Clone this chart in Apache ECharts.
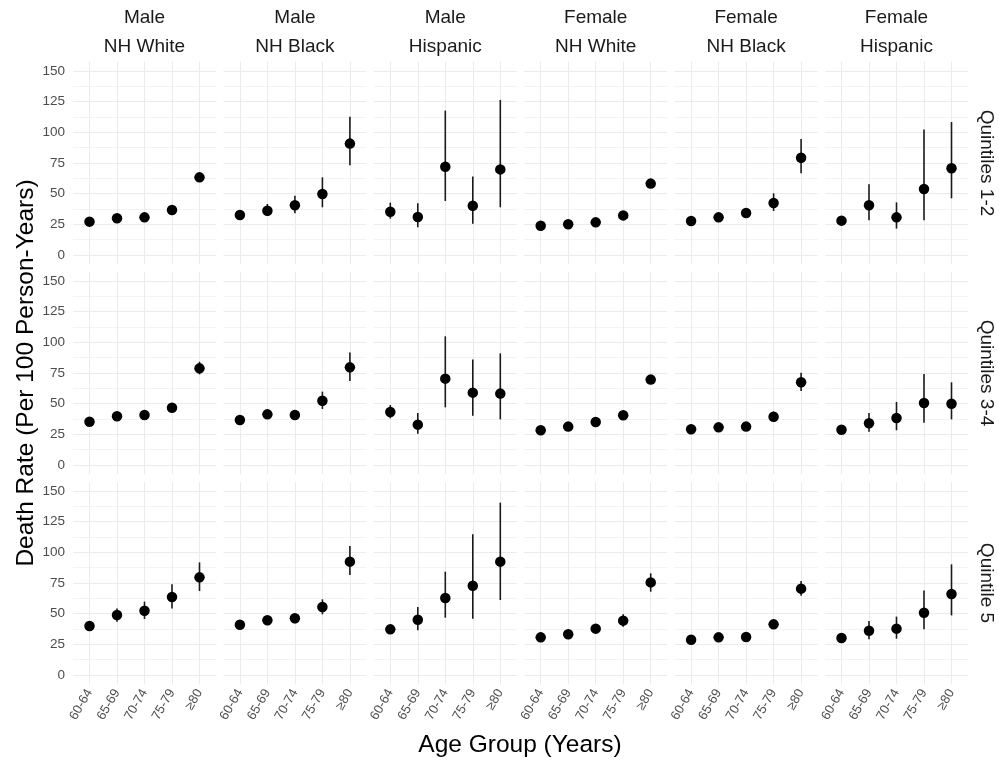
<!DOCTYPE html>
<html lang="en">

<head>
  <meta charset="UTF-8">
  <title>Death Rate by Age Group</title>
  <script src="https://cdn.jsdelivr.net/npm/echarts@6/dist/echarts.min.js"></script>
</head>

<body style="margin:0; background:#fff;">
  <div id="chart" style="width: 999px; height: 766px;"></div>

  <script>
    // categories
    var ageGroups = ['60-64', '65-69', '70-74', '75-79', '≥80'];
    var colHeads = [['Male', 'NH White'], ['Male', 'NH Black'], ['Male', 'Hispanic'],
                    ['Female', 'NH White'], ['Female', 'NH Black'], ['Female', 'Hispanic']];
    var rowHeads = ['Quintiles 1-2', 'Quintiles 3-4', 'Quintile 5'];
    var yTicks = [0, 25, 50, 75, 100, 125, 150];
    var yMinor = [12.5, 37.5, 62.5, 87.5, 112.5, 137.5];

    // Quintiles 1-2 : one row per column panel
    var estQ12 = [[27.2, 29.9, 30.7, 36.7, 63.3], [32.6, 36.1, 40.5, 49.7, 90.8], [35.3, 31.0, 72.0, 40.2, 69.8],
                  [23.9, 25.0, 26.6, 32.3, 58.2], [27.7, 30.7, 34.2, 42.4, 79.3], [28.0, 40.5, 30.7, 53.8, 70.7]];
    var loQ12 = [[25.8, 28.5, 29.0, 34.8, 61.0], [30.8, 31.8, 34.0, 38.9, 73.1], [29.6, 22.6, 44.0, 25.5, 38.9],
                 [22.9, 24.0, 25.5, 30.8, 56.5], [25.8, 28.6, 31.0, 35.9, 66.6], [25.5, 28.3, 21.5, 28.3, 46.2]];
    var hiQ12 = [[28.7, 31.4, 32.5, 38.7, 65.7], [34.5, 41.6, 48.4, 63.3, 112.8], [42.7, 42.1, 117.7, 63.9, 126.4],
                 [24.9, 26.0, 27.8, 33.9, 60.0], [29.7, 32.9, 37.5, 50.3, 94.6], [30.6, 57.6, 42.9, 102.4, 108.4]];

    // Quintiles 3-4
    var estQ34 = [[35.3, 39.7, 40.8, 46.7, 78.8], [36.7, 41.3, 40.8, 52.4, 79.6], [43.2, 32.9, 70.4, 59.0, 58.2],
                  [28.3, 31.3, 35.1, 40.5, 69.6], [29.1, 30.7, 31.3, 39.4, 67.4], [28.8, 34.0, 38.3, 50.5, 50.0]];
    var loQ34 = [[33.8, 38.0, 39.0, 44.5, 73.9], [35.0, 39.0, 37.0, 45.7, 68.5], [38.0, 25.5, 47.0, 40.2, 37.2],
                 [27.3, 30.2, 33.8, 38.8, 67.3], [27.9, 29.4, 29.8, 35.3, 60.3], [27.0, 27.2, 28.3, 34.5, 37.2]];
    var hiQ34 = [[36.8, 41.5, 42.8, 49.0, 84.2], [38.5, 43.8, 44.3, 59.8, 91.8], [48.9, 42.4, 104.9, 86.1, 91.0],
                 [29.4, 32.5, 36.5, 42.4, 72.2], [30.4, 32.1, 33.0, 43.5, 75.3], [30.7, 42.4, 51.4, 74.2, 67.4]];

    // Quintile 5
    var estQ5 = [[39.9, 48.9, 52.4, 63.6, 79.6], [41.0, 44.6, 46.2, 55.4, 92.4], [37.2, 45.1, 62.8, 72.8, 92.4],
                 [30.7, 33.2, 37.8, 44.3, 75.5], [28.8, 30.7, 31.0, 41.3, 70.4], [30.2, 36.1, 37.8, 50.8, 66.0]];
    var loQ5 = [[37.8, 43.5, 45.7, 54.3, 68.5], [39.0, 42.5, 42.1, 49.5, 81.5], [34.5, 36.4, 46.7, 45.9, 61.1],
                [29.3, 31.5, 35.5, 39.4, 67.9], [27.3, 29.0, 29.1, 38.8, 64.7], [28.5, 29.1, 29.6, 37.2, 48.6]];
    var hiQ5 = [[42.0, 54.3, 59.8, 73.9, 91.8], [43.2, 46.8, 50.0, 61.7, 105.2], [40.0, 55.4, 84.2, 114.7, 140.5],
                [32.2, 35.0, 40.2, 49.5, 82.9], [30.4, 32.4, 33.0, 43.8, 76.6], [32.0, 44.0, 47.6, 68.8, 90.2]];

    var est = [estQ12, estQ34, estQ5];
    var lo = [loQ12, loQ34, loQ5];
    var hi = [hiQ12, hiQ34, hiQ5];

    var myChart = echarts.init(document.getElementById('chart'));

    var FONT = 'Liberation Sans, Arial, sans-serif';
    var xIdx = [0, 1, 2, 3, 4];
    var yAll = yTicks.concat(yMinor).sort(function (a, b) { return a - b; });

    var grids = [], xAxes = [], yAxes = [], series = [], graphics = [];

    function label(x, y, text, size, fill, rot) {
      return {
        type: 'text', x: x, y: y, rotation: rot || 0,
        style: { text: text, font: size + 'px ' + FONT, fill: fill, textAlign: 'center', textVerticalAlign: 'middle', align: 'center', verticalAlign: 'middle' }
      };
    }

    for (var r = 0; r < 3; r++) {
      for (var c = 0; c < 6; c++) {
        var g = r * 6 + c;
        var left = 73 + c * 150.4;
        grids.push({ left: left, top: 61.8 + r * 210, width: 143, height: 202.4 });

        xAxes.push({
          type: 'value', gridIndex: g, min: -0.6, max: 4.6,
          axisLine: { show: false },
          axisTick: { show: false, customValues: xIdx },
          splitLine: { show: true, lineStyle: { color: '#ebebeb', width: 1 } },
          axisLabel: {
            show: r === 2, customValues: xIdx, rotate: 60, margin: 6,
            color: '#4d4d4d', fontSize: 13, fontFamily: FONT,
            formatter: function (v) { return ageGroups[Math.round(v)]; }
          }
        });

        yAxes.push({
          type: 'value', gridIndex: g, min: -7.5, max: 157.5,
          axisLine: { show: false },
          axisTick: { show: false, customValues: yAll },
          splitLine: { show: true, lineStyle: { color: ['#ebebeb', '#f3f3f3'], width: 1 } },
          axisLabel: {
            show: c === 0, customValues: yTicks, margin: 8,
            color: '#4d4d4d', fontSize: 13.5, fontFamily: FONT
          }
        });

        var pts = [], bars = [];
        for (var i = 0; i < ageGroups.length; i++) {
          pts.push([i, est[r][c][i]]);
          bars.push([i, lo[r][c][i], hi[r][c][i]]);
        }

        // error bars
        series.push({
          type: 'custom', xAxisIndex: g, yAxisIndex: g,
          encode: { x: 0, y: [1, 2] },
          data: bars,
          silent: true,
          renderItem: function (params, api) {
            var x = api.value(0);
            var p1 = api.coord([x, api.value(1)]);
            var p2 = api.coord([x, api.value(2)]);
            return {
              type: 'line',
              shape: { x1: p1[0], y1: p1[1], x2: p2[0], y2: p2[1] },
              style: { stroke: '#1a1a1a', lineWidth: 1.6 }
            };
          }
        });

        // point estimates
        series.push({
          type: 'scatter', xAxisIndex: g, yAxisIndex: g,
          data: pts, symbolSize: 10.5, silent: true,
          itemStyle: { color: '#000', opacity: 1 }
        });
      }
    }

    // column strip labels
    for (var c2 = 0; c2 < 6; c2++) {
      var cx = 73 + c2 * 150.4 + 71.5;
      graphics.push(label(cx, 18, colHeads[c2][0], 19, '#1a1a1a'));
      graphics.push(label(cx, 47, colHeads[c2][1], 19, '#1a1a1a'));
    }

    // row strip labels
    for (var r2 = 0; r2 < 3; r2++) {
      graphics.push(label(986, 163 + r2 * 210, rowHeads[r2], 19, '#1a1a1a', -Math.PI / 2));
    }

    // axis titles
    graphics.push(label(520, 745, 'Age Group (Years)', 24.5, '#000'));
    graphics.push(label(26, 373, 'Death Rate (Per 100 Person-Years)', 24.5, '#000', Math.PI / 2));

    myChart.setOption({
      animation: false,
      backgroundColor: '#fff',
      grid: grids,
      xAxis: xAxes,
      yAxis: yAxes,
      series: series,
      graphic: graphics
    });
  </script>
</body>

</html>
